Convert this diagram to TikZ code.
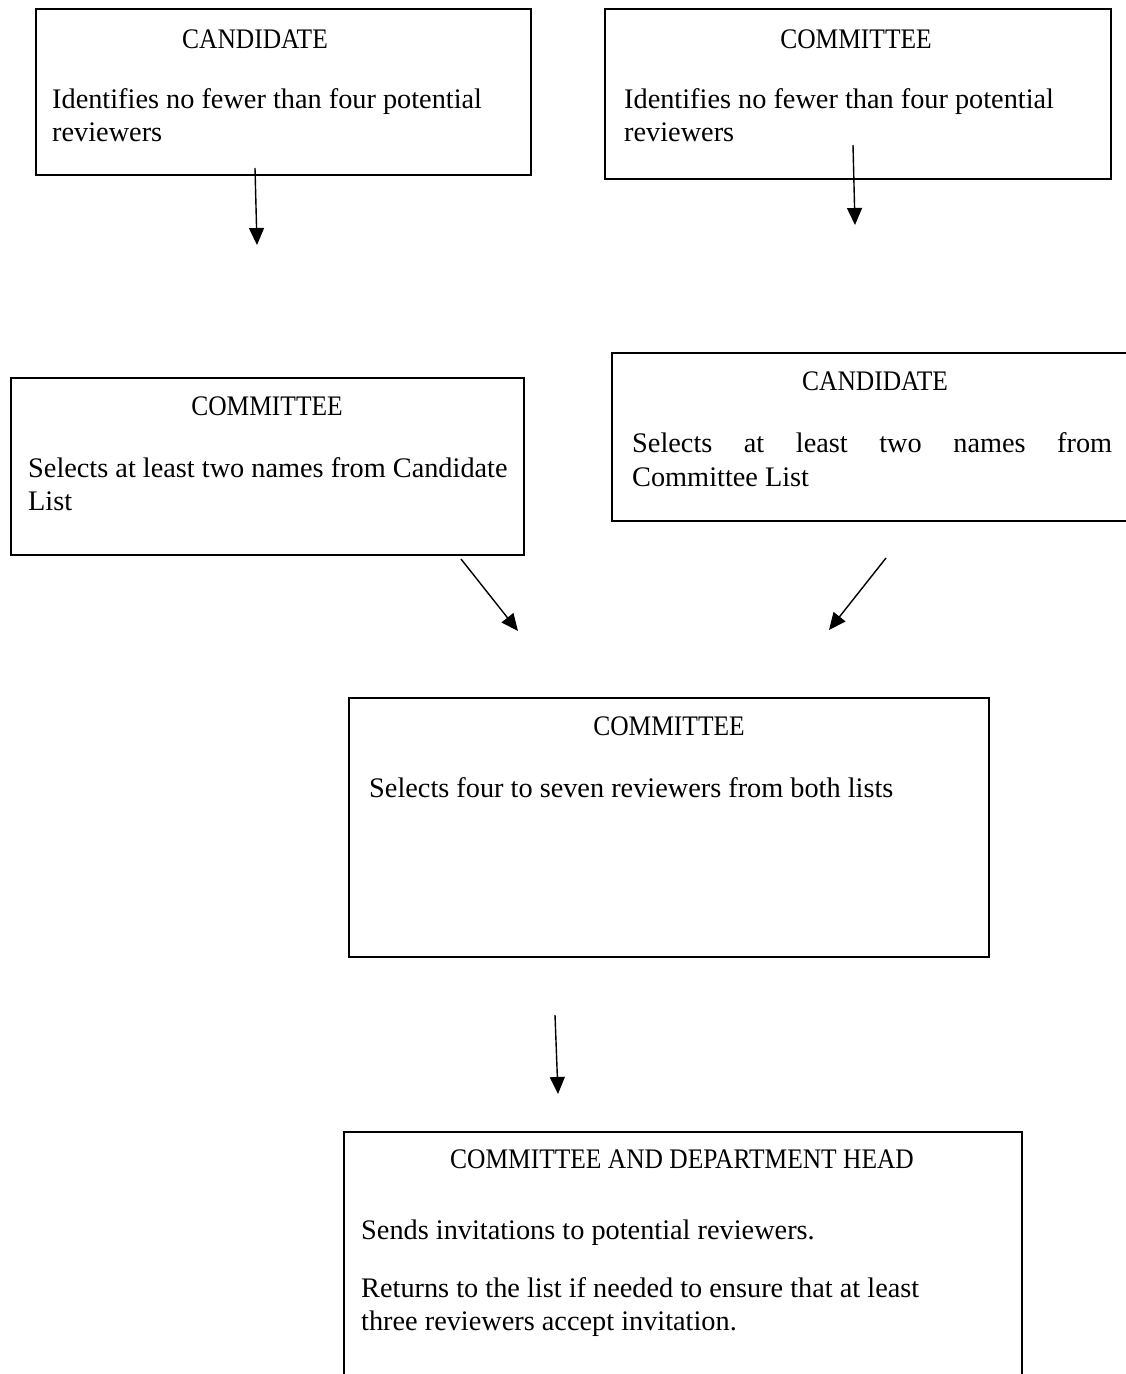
\documentclass[tikz,border=0pt]{standalone}
\usepackage{fontspec}
\setmainfont{Liberation Serif}
\newfontfamily\hdrfont{Liberation Serif}[FakeStretch=0.9]
\usetikzlibrary{arrows.meta}
\begin{document}
\begin{tikzpicture}[x=1pt,y=-1pt,
  box/.style={draw,line width=1.6pt,inner sep=0pt,anchor=north west},
  txt/.style={anchor=base west,inner sep=0pt,font=\fontsize{28.3}{33}\selectfont},
  hdr/.style={anchor=base,inner sep=0pt,font=\hdrfont\fontsize{28.3}{33}\selectfont},
  arr/.style={line width=1.4pt,-{Triangle[length=17pt,width=15pt]}}]
\useasboundingbox (0,0) rectangle (1126,1374);
\clip (0,0) rectangle (1126,1374);
% boxes
\node[box,minimum width=495pt,minimum height=166pt] (b1) at (35,8) {};
\node[box,minimum width=506pt,minimum height=170pt] (b2) at (604,8) {};
\node[box,minimum width=513pt,minimum height=177pt] (b3) at (10,377) {};
\node[box,minimum width=540pt,minimum height=168pt] (b4) at (611,352) {};
\node[box,minimum width=640pt,minimum height=259pt] (b5) at (348,697) {};
\node[box,minimum width=678pt,minimum height=270pt] (b6) at (343,1131) {};
% texts
\node[hdr] (h1) at (255,48) {CANDIDATE};
\node[txt] (t1a) at (52,108) {Identifies no fewer than four potential};
\node[txt] (t1b) at (52,141) {reviewers};
\node[hdr] (h2) at (856,48) {COMMITTEE};
\node[txt] (t2a) at (624,108) {Identifies no fewer than four potential};
\node[txt] (t2b) at (624,141) {reviewers};
\node[hdr] (h3) at (267,415) {COMMITTEE};
\node[txt] (t3a) at (28,477) {Selects at least two names from Candidate};
\node[txt] (t3b) at (28,510) {List};
\node[hdr] (h4) at (875,390) {CANDIDATE};
\node[txt] (t4a) at (632,452) {\makebox[480pt][s]{Selects at least two names from}};
\node[txt] (t4b) at (632,486) {Committee List};
\node[hdr] (h5) at (669,735) {COMMITTEE};
\node[txt] (t5a) at (369,797) {Selects four to seven reviewers from both lists};
\node[hdr] (h6) at (682,1168) {COMMITTEE AND DEPARTMENT HEAD};
\node[txt] (t6a) at (361,1239) {Sends invitations to potential reviewers.};
\node[txt] (t6b) at (361,1297) {Returns to the list if needed to ensure that at least};
\node[txt] (t6c) at (361,1330) {three reviewers accept invitation.};
% arrow ends
\coordinate (a1s) at (255,168); \coordinate (a1e) at (257,245);
\coordinate (a2s) at (853,145); \coordinate (a2e) at (855,225);
\coordinate (a3s) at (461,559); \coordinate (a3e) at (518,631);
\coordinate (a4s) at (886,558); \coordinate (a4e) at (829,630);
\coordinate (a5s) at (555,1015); \coordinate (a5e) at (558,1094);
\draw[arr] (a1s) -- (a1e);
\draw[arr] (a2s) -- (a2e);
\draw[arr] (a3s) -- (a3e);
\draw[arr] (a4s) -- (a4e);
\draw[arr] (a5s) -- (a5e);
\end{tikzpicture}
\end{document}
